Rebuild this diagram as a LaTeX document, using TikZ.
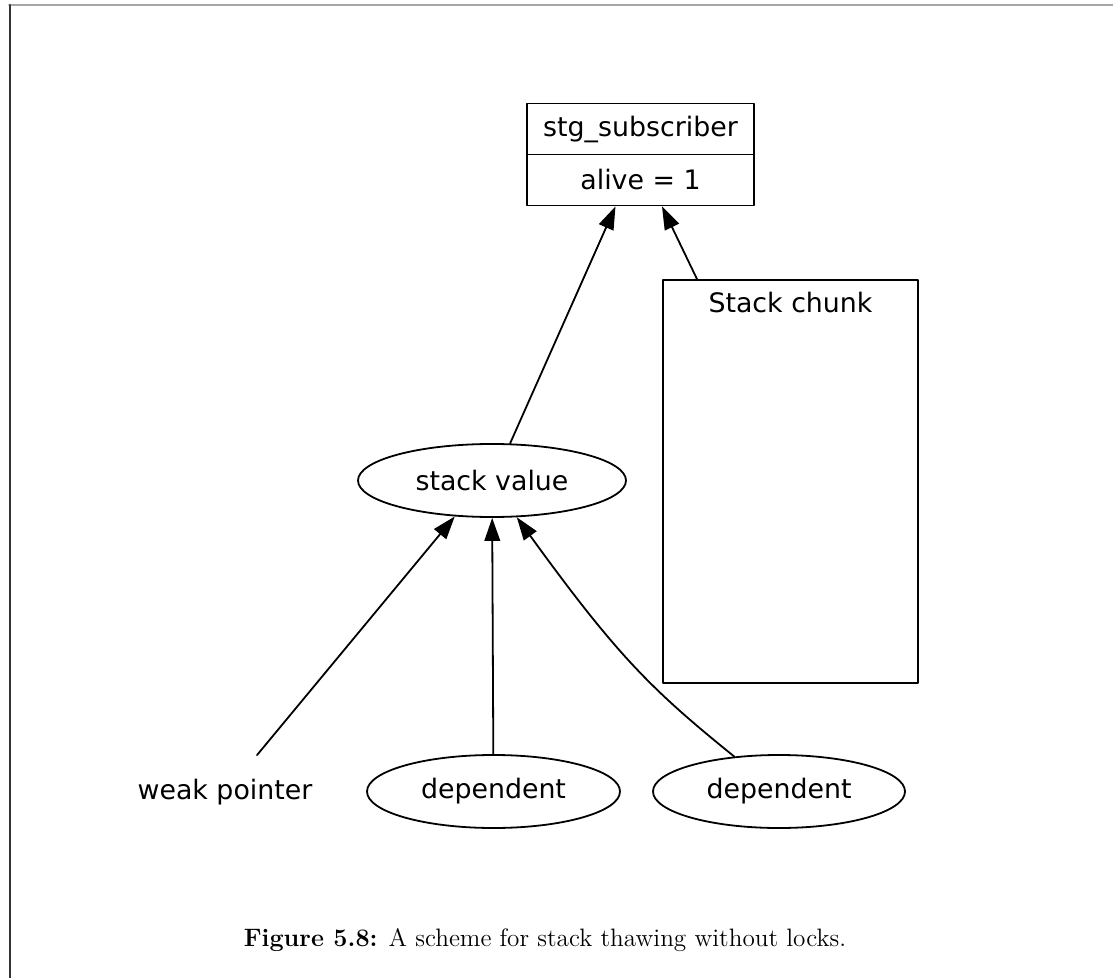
\documentclass[tikz,border=0pt]{standalone}
\usepackage{fontspec}
\newfontfamily\dotfont{DejaVu Sans}
\usetikzlibrary{arrows.meta}
\usetikzlibrary{shapes.geometric}

\begin{document}
\begin{tikzpicture}[line cap=round,line join=round,>={Triangle[length=11.5pt,width=7.8pt]},x=0.5pt,y=-0.5pt,
  every node/.style={font=\dotfont\fontsize{13.4}{16}\selectfont},
  box/.style={draw,rectangle,line width=0.9pt,inner sep=0pt},
  oval/.style={draw,ellipse,line width=0.9pt,inner sep=0pt,minimum height=36.5pt},
  edge/.style={->,line width=0.9pt}]
\useasboundingbox (0,0) rectangle (1113,978);
% page frame
\draw [gray!70,line width=0.8pt] (9,5)--(1113,5);
\draw [black!80,line width=1pt] (9.5,5)--(9.5,978);
% record
\node[box,minimum width=113.5pt,minimum height=25.5pt] (sub) at (640.5,129) {stg\_subscriber};
\node[box,minimum width=113.5pt,minimum height=25.5pt] (alive) at (640.5,180) {alive = 1};
\node[box,minimum width=127.5pt,minimum height=201.5pt,
  label={[anchor=center,yshift=-11.5pt]north:Stack chunk}] (chunk) at (790.5,481.5) {};
\node[oval,minimum width=134pt] (sv) at (492,480.5) {stack value};
\node[minimum height=36.5pt] (wp) at (225,792) {weak pointer};
\node[oval,minimum width=126.5pt] (dep1) at (493.5,791.5) {dependent};
\node[oval,minimum width=126pt] (dep2) at (779,791.5) {dependent};
% edges
\draw [edge] (sv.64)--([xshift=-12.5pt]alive.south);
\draw [edge] ([xshift=-46.75pt]chunk.north)--([xshift=10.75pt]alive.south);
\draw [edge] ([xshift=16pt]wp.north)--(sv.224);
\draw [edge] (dep1)--(sv);
\draw [edge] (dep2.142) .. controls +(-83,-67) and +(100,138) .. (sv.304);
\node[font=\normalfont\fontsize{12.6}{15}\selectfont] (cap) at (545,940) {\textbf{Figure 5.8:} A scheme for stack thawing without locks.};
\end{tikzpicture}
\end{document}
